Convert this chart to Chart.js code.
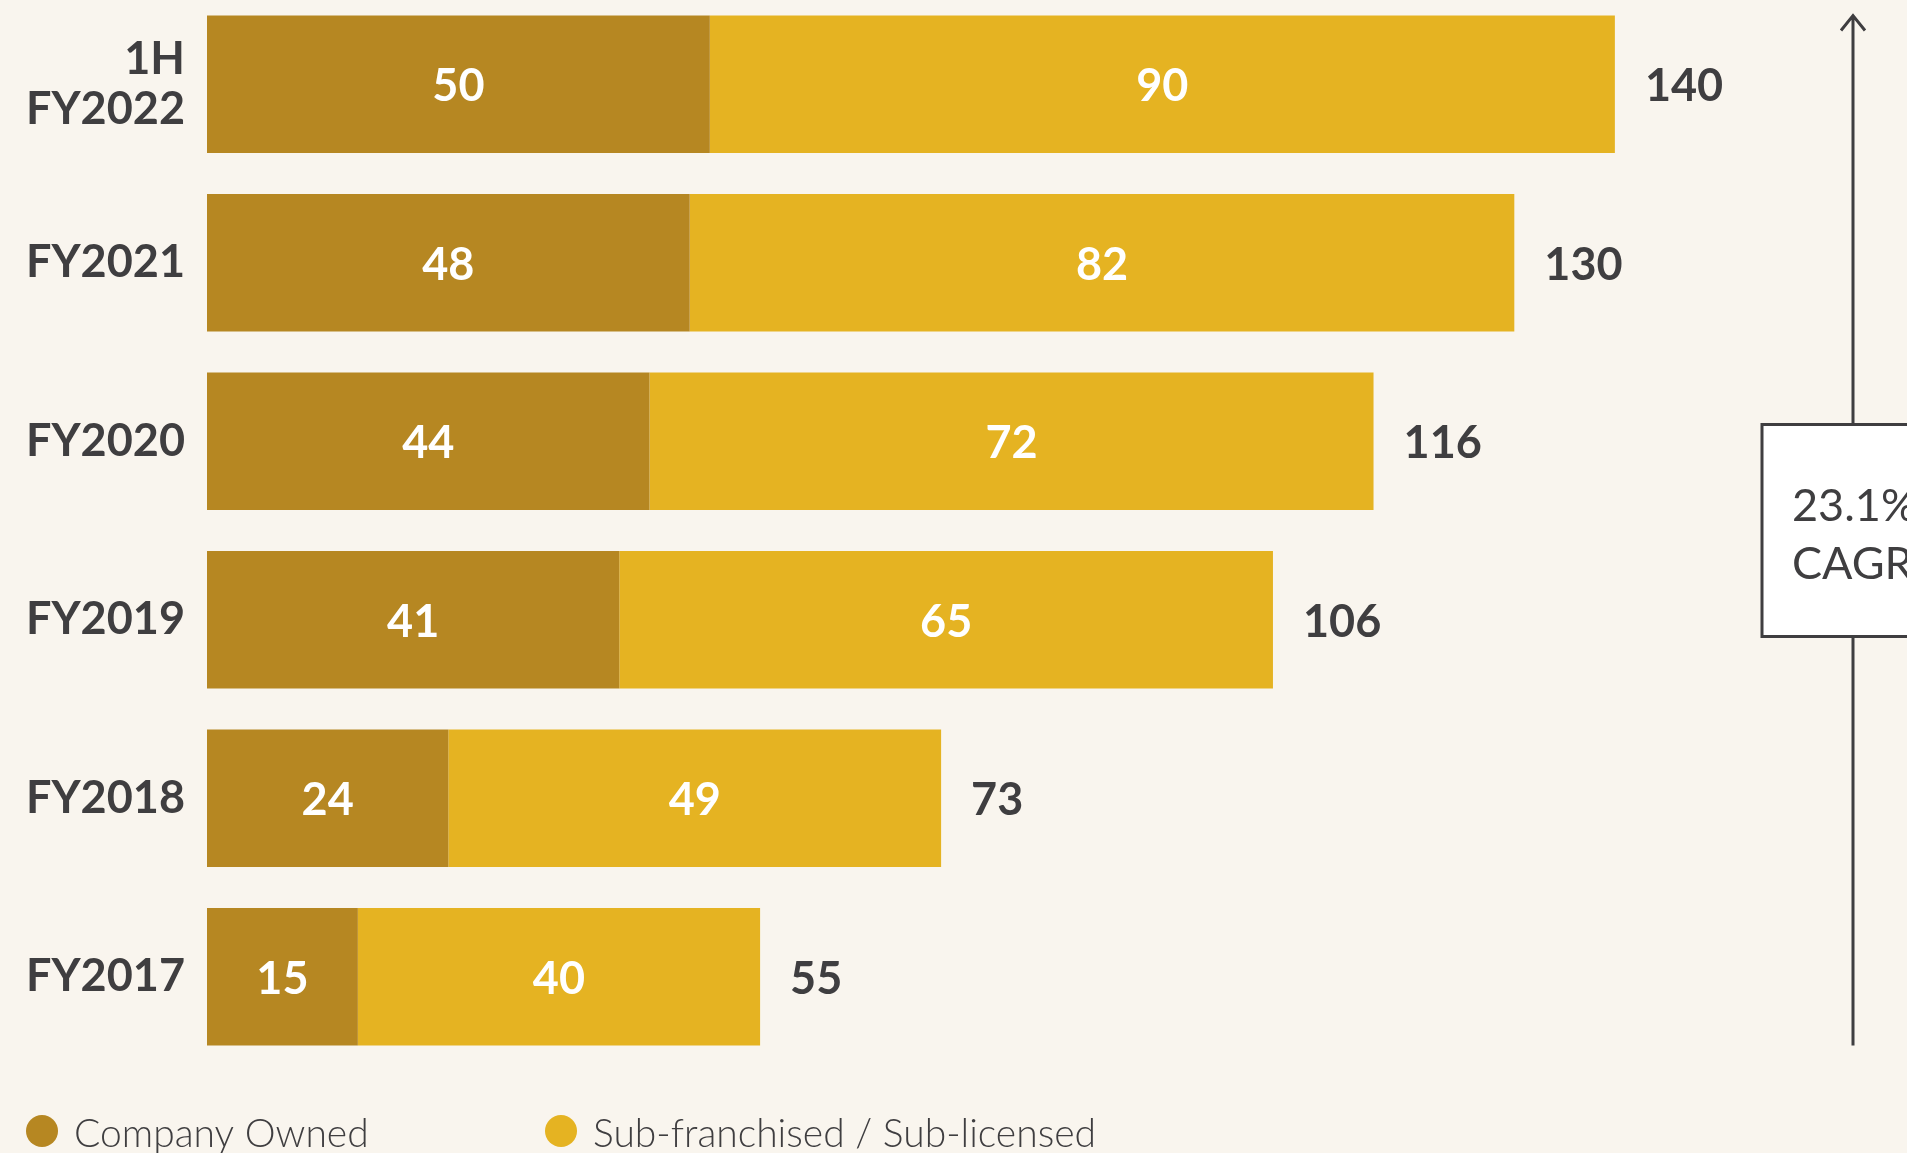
<!DOCTYPE html>
<html>
<head>
<meta charset="utf-8">
<script src="https://cdn.jsdelivr.net/npm/chart.js@4.4.1/dist/chart.umd.min.js"></script>
<style>
html, body { margin: 0; padding: 0; background: #F9F5EE; overflow: hidden; }
#wrap { position: relative; width: 1907px; height: 1153px; overflow: hidden; }
#chart { position: absolute; left: 0; top: -5px; }
</style>
</head>
<body>
<div id="wrap"><canvas id="chart" width="1907" height="1158"></canvas></div>
<script>
const CATEGORIES = [['1H', 'FY2022'], 'FY2021', 'FY2020', 'FY2019', 'FY2018', 'FY2017'];
const COMPANY_OWNED = [50, 48, 44, 41, 24, 15];
const SUB_FRANCHISED = [90, 82, 72, 65, 49, 40];
const TOTALS = [140, 130, 116, 106, 73, 55];
const SERIES_NAMES = ['Company Owned', 'Sub-franchised / Sub-licensed'];
const SERIES_COLORS = ['#B68722', '#E5B322'];
const CAGR_TEXT = ['23.1%', 'CAGR'];

const TEXT = '#3F3E40';
const OFF = 5; // canvas sits 5px above the page

// numbers in and next to the bars
const valueLabels = {
    id: 'valueLabels',
    afterDatasetsDraw(chart) {
        const ctx = chart.ctx;
        ctx.save();
        ctx.font = 'bold 45px Lato';
        ctx.textBaseline = 'alphabetic';
        chart.data.datasets.forEach((ds, i) => {
            chart.getDatasetMeta(i).data.forEach((bar, j) => {
                ctx.fillStyle = '#FFFFFF';
                ctx.textAlign = 'center';
                ctx.fillText(ds.data[j], (bar.x + bar.base) / 2, bar.y + 17);
            });
        });
        // totals
        const last = chart.getDatasetMeta(chart.data.datasets.length - 1);
        last.data.forEach((bar, j) => {
            ctx.fillStyle = TEXT;
            ctx.textAlign = 'left';
            ctx.fillText(TOTALS[j], bar.x + 30, bar.y + 17);
        });
        ctx.restore();
    }
};

// CAGR arrow + box, and the legend at the bottom
const extras = {
    id: 'extras',
    afterDraw(chart) {
        const ctx = chart.ctx;
        const bars = chart.getDatasetMeta(0).data;
        const top = bars[0].y - bars[0].height / 2;
        const bottom = bars[bars.length - 1].y + bars[bars.length - 1].height / 2;
        const lx = 1853;
        const mid = (top + bottom) / 2;
        ctx.save();
        ctx.strokeStyle = TEXT;
        ctx.lineWidth = 3;
        ctx.beginPath();
        ctx.moveTo(lx, top);
        ctx.lineTo(lx, bottom);
        ctx.moveTo(lx - 12, top + 15);
        ctx.lineTo(lx, top);
        ctx.lineTo(lx + 12, top + 15);
        ctx.stroke();

        // box
        ctx.fillStyle = '#FFFFFF';
        ctx.fillRect(1762, mid - 106, 200, 212);
        ctx.strokeRect(1762, mid - 106, 200, 212);
        ctx.fillStyle = TEXT;
        ctx.font = '45px Lato';
        ctx.textAlign = 'left';
        ctx.textBaseline = 'alphabetic';
        ctx.fillText(CAGR_TEXT[0], 1792, mid - 10);
        ctx.fillText(CAGR_TEXT[1], 1792, mid + 48);

        // legend
        const legendX = [42, 561];
        ctx.font = '300 39px Lato';
        chart.data.datasets.forEach((ds, i) => {
            ctx.fillStyle = ds.backgroundColor;
            ctx.beginPath();
            ctx.arc(legendX[i], 1131 + OFF, 16, 0, Math.PI * 2);
            ctx.fill();
            ctx.fillStyle = TEXT;
            ctx.fillText(ds.label, legendX[i] + 32, 1147 + OFF);
        });
        ctx.restore();
    }
};

const ctx = document.getElementById('chart').getContext('2d');
const chart = new Chart(ctx, {
    type: 'bar',
    data: {
        labels: CATEGORIES,
        datasets: [{
            label: SERIES_NAMES[0],
            data: COMPANY_OWNED,
            backgroundColor: SERIES_COLORS[0],
            borderWidth: 0
        }, {
            label: SERIES_NAMES[1],
            data: SUB_FRANCHISED,
            backgroundColor: SERIES_COLORS[1],
            borderWidth: 0
        }]
    },
    options: {
        responsive: false,
        animation: false,
        indexAxis: 'y',
        categoryPercentage: 1,
        barPercentage: 0.77,
        layout: { autoPadding: false, padding: { left: 27, right: 91, top: 0, bottom: 87 } },
        plugins: {
            legend: { display: false },
            tooltip: { enabled: false }
        },
        scales: {
            x: { stacked: true, min: 0, max: 160, display: false },
            y: {
                stacked: true,
                grid: { display: false, drawTicks: false },
                border: { display: false },
                ticks: {
                    color: TEXT,
                    font: { family: 'Lato', weight: 'bold', size: 45, lineHeight: 1.1 },
                    padding: 22,
                    crossAlign: 'near'
                },
                afterFit: function (scale) {
                    scale.width = 180;
                    scale.paddingTop = 0;
                    scale.paddingBottom = 0;
                }
            }
        }
    },
    plugins: [valueLabels, extras]
});
</script>
</body>
</html>
